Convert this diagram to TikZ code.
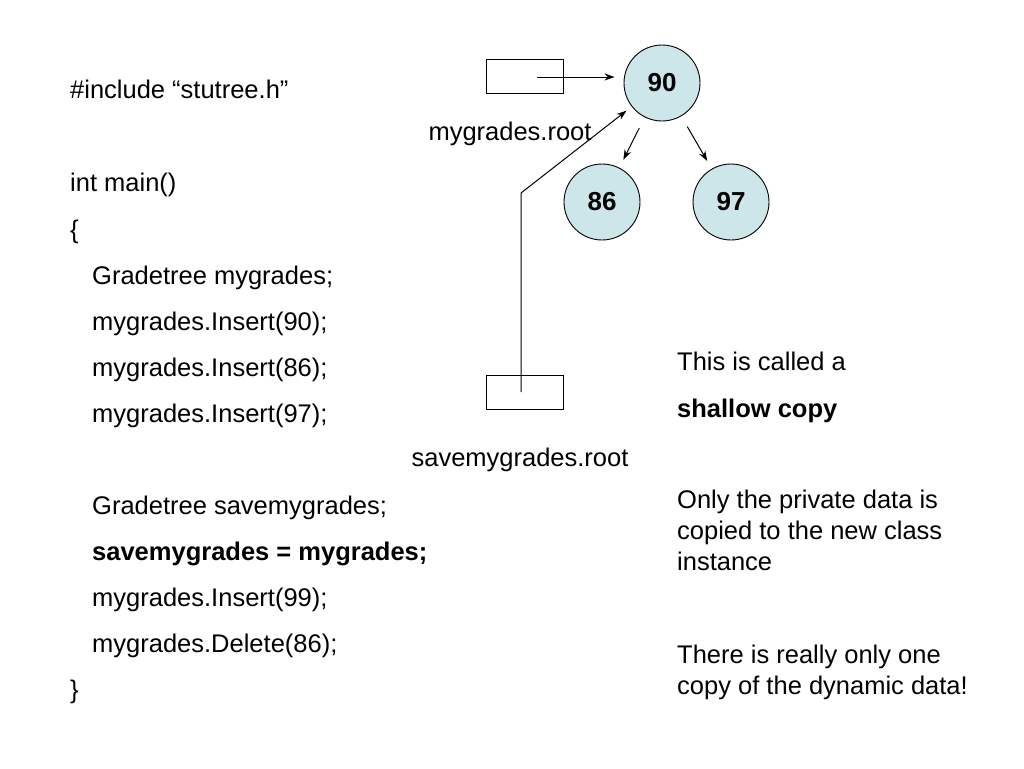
\documentclass[tikz,border=0pt]{standalone}
\usepackage{fontspec}
\setmainfont{Liberation Sans}
\usetikzlibrary{arrows.meta}
\definecolor{nodefill}{RGB}{204,230,234}
\begin{document}
\begin{tikzpicture}[x=1pt,y=-1pt,
  txt/.style={anchor=base west,inner sep=0pt,font=\fontsize{25.5}{30}\selectfont},
  ctxt/.style={anchor=base,inner sep=0pt,font=\fontsize{25.5}{30}\selectfont},
  tnode/.style={circle,draw,line width=0.9pt,fill=nodefill,minimum size=76pt,inner sep=0pt,font=\fontsize{26}{30}\selectfont\bfseries},
  ptr/.style={rectangle,draw,line width=0.9pt,minimum width=77pt,minimum height=34pt,inner sep=0pt},
  arr/.style={line width=1pt,-{Stealth[length=10pt,width=7pt]}}
  ]
\useasboundingbox (0,0) rectangle (1024,768);
% code
\node[txt] (c1) at (70,98) {\#include “stutree.h”};
\node[txt] (c2) at (70,191) {int main()};
\node[txt] (c3) at (70,238) {\{};
\node[txt] (c4) at (92,284) {Gradetree mygrades;};
\node[txt] (c5) at (92,330) {mygrades.Insert(90);};
\node[txt] (c6) at (92,376) {mygrades.Insert(86);};
\node[txt] (c7) at (92,422) {mygrades.Insert(97);};
\node[txt] (c8) at (92,514) {Gradetree savemygrades;};
\node[txt] (c9) at (92,560) {\bfseries savemygrades = mygrades;};
\node[txt] (c10) at (92,606) {mygrades.Insert(99);};
\node[txt] (c11) at (92,652) {mygrades.Delete(86);};
\node[txt] (c12) at (70,698) {\}};
% right notes
\node[txt] (r1) at (677,370) {This is called a};
\node[txt] (r2) at (677,417) {\bfseries shallow copy};
\node[txt] (r3) at (677,508) {Only the private data is};
\node[txt] (r4) at (677,539) {copied to the new class};
\node[txt] (r5) at (677,570) {instance};
\node[txt] (r6) at (677,663) {There is really only one};
\node[txt] (r7) at (677,694) {copy of the dynamic data!};
% tree
\node[tnode] (n90) at (662,83) {90};
\node[tnode] (n86) at (602,202) {86};
\node[tnode] (n97) at (731,202) {97};
\draw[arr,shorten <=12pt,shorten >=9pt] (n90) -- (n86);
\draw[arr,shorten <=12pt,shorten >=9pt] (n90) -- (n97);
% pointers
\node[ptr] (box1) at (524.5,76) {};
\node[ctxt] (l1) at (510,140) {mygrades.root};
\coordinate (p1) at (537,77);
\draw[arr,shorten >=9pt] (p1) -- (n90.west |- p1);
\node[ptr] (box2) at (524.5,392) {};
\node[ctxt] (l2) at (520,466) {savemygrades.root};
\coordinate (q0) at (521,392);
\coordinate (q1) at (521,193);
\draw[arr,shorten >=45pt] (q0) -- (q1) -- (n90.center);
\end{tikzpicture}
\end{document}
